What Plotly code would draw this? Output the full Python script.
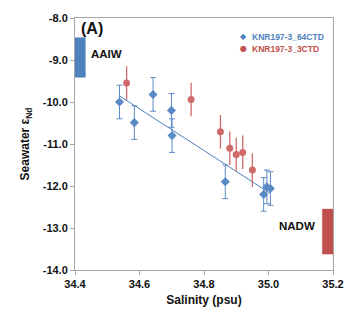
import numpy as np
import plotly.graph_objects as go

# Station KNR197-3_64CTD (blue diamonds)
sal_64 = [34.538, 34.584, 34.642, 34.699, 34.701, 34.866, 34.985, 34.995, 35.006]
eps_64 = [-10.00, -10.49, -9.82, -10.20, -10.80, -11.90, -12.20, -12.02, -12.06]
err_64 = [0.4, 0.4, 0.4, 0.4, 0.4, 0.4, 0.4, 0.4, 0.4]

# Station KNR197-3_3CTD (red circles)
sal_3 = [34.560, 34.760, 34.851, 34.880, 34.900, 34.920, 34.950]
eps_3 = [-9.55, -9.94, -10.71, -11.10, -11.25, -11.20, -11.62]
err_3 = [0.4, 0.4, 0.4, 0.4, 0.4, 0.4, 0.4]

series_names = ["KNR197-3_64CTD", "KNR197-3_3CTD"]

# End-member water masses
mass_names = ["AAIW", "NADW"]
mass_sal_lo = [34.400, 35.167]
mass_sal_hi = [34.432, 35.200]
mass_eps_hi = [-8.47, -12.55]
mass_eps_lo = [-9.41, -13.62]
mass_colors = ["#4f81bd", "#c0504d"]

x_ticks = [34.4, 34.6, 34.8, 35.0, 35.2]
x_tick_labels = ["34.4", "34.6", "34.8", "35.0", "35.2"]
y_ticks = [-8.0, -9.0, -10.0, -11.0, -12.0, -13.0, -14.0]
y_tick_labels = ["-8.0", "-9.0", "-10.0", "-11.0", "-12.0", "-13.0", "-14.0"]

BLUE = "#4f81bd"
RED = "#c0504d"
RED_MK = "#d06a6a"
FONT = "Liberation Sans"

fig = go.Figure()

# water mass bars
for name, lo, hi, top, bot, col in zip(mass_names, mass_sal_lo, mass_sal_hi,
                                       mass_eps_hi, mass_eps_lo, mass_colors):
    fig.add_trace(go.Scatter(
        x=[lo, hi, hi, lo, lo], y=[top, top, bot, bot, top],
        fill="toself", fillcolor=col, mode="lines",
        line=dict(width=0.5, color=col), showlegend=False, hoverinfo="skip"))

# trendline for 64CTD
coef = np.polyfit(sal_64, eps_64, 1)
tx = np.array([min(sal_64), max(sal_64)])
fig.add_trace(go.Scatter(x=tx, y=np.polyval(coef, tx), mode="lines",
                         line=dict(color=BLUE, width=1), showlegend=False))

fig.add_trace(go.Scatter(
    x=sal_64, y=eps_64, mode="markers", name=series_names[0], showlegend=False,
    marker=dict(symbol="diamond", size=7, color="#5a8ac6"),
    error_y=dict(type="data", array=err_64, color="#5a8ac6", thickness=1, width=3)))

fig.add_trace(go.Scatter(
    x=sal_3, y=eps_3, mode="markers", name=series_names[1], showlegend=False,
    marker=dict(symbol="circle", size=7, color=RED_MK),
    error_y=dict(type="data", array=err_3, color=RED_MK, thickness=1.3, width=0)))

# legend drawn as annotations (symbol tight to text, text coloured like the series)
legend_syms = ["◆", "●"]
legend_cols = [BLUE, RED]
legend_y = [0.953, 0.906]
for sym, nm, col, ly in zip(legend_syms, series_names, legend_cols, legend_y):
    fig.add_annotation(x=0.675, y=ly, xref="paper", yref="paper",
                       text=f"<span style='color:{col}'>{sym}</span>",
                       xanchor="right", showarrow=False,
                       font=dict(family="DejaVu Sans", size=8, color=col))
    fig.add_annotation(x=0.68, y=ly, xref="paper", yref="paper",
                       text=f"<b>{nm}</b>", xanchor="left", showarrow=False,
                       font=dict(family=FONT, size=8.5, color=col))

fig.add_annotation(x=34.454, y=-8.26, xref="x", yref="y", text="<b>(A)</b>",
                   showarrow=False, font=dict(family=FONT, size=16, color="#111"))
fig.add_annotation(x=34.442, y=-8.86, xref="x", yref="y", text="<b>AAIW</b>",
                   xanchor="left", showarrow=False,
                   font=dict(family=FONT, size=11.5, color="#111"))
fig.add_annotation(x=35.15, y=-12.96, xref="x", yref="y", text="<b>NADW</b>",
                   xanchor="right", showarrow=False,
                   font=dict(family=FONT, size=11.5, color="#111"))

axis_common = dict(showgrid=False, zeroline=False, showline=True, linecolor="#a6a6a6",
                   linewidth=1, mirror=True, ticks="outside", tickcolor="#a6a6a6",
                   ticklen=4,
                   tickfont=dict(family=FONT, size=11, color="#111", weight="bold"))

fig.update_xaxes(range=[34.4, 35.2], tickvals=x_ticks, ticktext=x_tick_labels, **axis_common,
                 title=dict(text="<b>Salinity (psu)</b>", standoff=6,
                            font=dict(family=FONT, size=12, color="#111")))
fig.update_yaxes(range=[-14, -8], tickvals=y_ticks, ticktext=y_tick_labels, **axis_common,
                 title=dict(text="<b>Seawater ε<sub>Nd</sub></b>", standoff=10,
                            font=dict(family=FONT, size=12, color="#111")))

fig.update_layout(
    width=356, height=321,
    margin=dict(l=75, r=16, t=15, b=51),
    plot_bgcolor="white", paper_bgcolor="white",
    showlegend=False,
)

fig.write_html("out.html")
